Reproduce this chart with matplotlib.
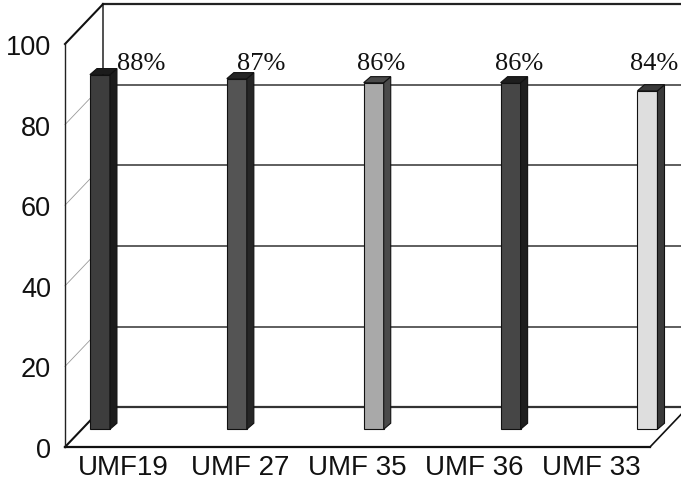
#importing libraries
import numpy as np
import matplotlib
matplotlib.use("Agg")
import matplotlib.pyplot as plt
from matplotlib.patches import Polygon

#data
categories = ["UMF19", "UMF 27", "UMF 35", "UMF 36", "UMF 33"]
values = [88, 87, 86, 86, 84]
value_labels = ["88%", "87%", "86%", "86%", "84%"]
yticks = [0, 20, 40, 60, 80, 100]

#styles
face_colors = ["#3d3d3d", "#545454", "#a9a9a9", "#464646", "#dedede"]
side_colors = ["#1c1c1c", "#262626", "#4a4a4a", "#1e1e1e", "#3a3a3a"]
label_shift = [0.355, 0.21, 0.06, 0.07, 0.06]

#3d geometry in data units (front plane is the axes)
back_dx, back_dy = 0.325, 9.9      # back wall offset
mid_dx, mid_dy = 0.15, 4.4         # plane where bars stand
bar_w = 0.171
box_dx, box_dy = 0.06, 1.5         # bar thickness
bar_x = -0.437 + 1.17 * np.arange(len(values))

fig = plt.figure(figsize=(6.81, 4.89), dpi=100)
ax = fig.add_axes([65 / 681, 41 / 489, 585 / 681, 403 / 489])
ax.set_xlim(-0.5, 4.5)
ax.set_ylim(0, 100)
ax.patch.set_alpha(0)

x0, x1 = -0.5, 4.5

#back wall
ax.plot([x0 + back_dx, x0 + back_dx], [back_dy, 100 + back_dy], color="#222", lw=1.1, clip_on=False, zorder=1)
ax.plot([x0 + back_dx, x1 + back_dx], [100 + back_dy, 100 + back_dy], color="#222", lw=1.6, clip_on=False, zorder=1)
for t in yticks[:-1]:
    lw = 1.6 if t == 0 else 1.1
    ax.plot([x0 + back_dx, x1 + back_dx], [t + back_dy, t + back_dy], color="#333", lw=lw, clip_on=False, zorder=1)

#left wall diagonals
for t in yticks:
    if t in (0, 100):
        ax.plot([x0, x0 + back_dx], [t, t + back_dy], color="#111", lw=1.5, clip_on=False, zorder=1)
    else:
        ax.plot([x0, x0 + back_dx], [t, t + back_dy], color="#9a9a9a", lw=0.6, clip_on=False, zorder=1)

#floor
ax.plot([x0, x1], [0, 0], color="#111", lw=1.6, clip_on=False, zorder=4)
ax.plot([x1, x1 + back_dx], [0, back_dy], color="#111", lw=1.2, clip_on=False, zorder=4)

#bars
ax.bar(bar_x + mid_dx, values, width=bar_w, bottom=mid_dy, align="edge",
       color=face_colors, edgecolor="#111", linewidth=0.8, zorder=3, clip_on=False)
for x, v, sc in zip(bar_x + mid_dx, values, side_colors):
    top = mid_dy + v
    side = [(x + bar_w, mid_dy), (x + bar_w + box_dx, mid_dy + box_dy),
            (x + bar_w + box_dx, top + box_dy), (x + bar_w, top)]
    cap = [(x, top), (x + box_dx, top + box_dy), (x + bar_w + box_dx, top + box_dy), (x + bar_w, top)]
    ax.add_patch(Polygon(side, closed=True, facecolor=sc, edgecolor="#111", lw=0.8, zorder=3, clip_on=False))
    ax.add_patch(Polygon(cap, closed=True, facecolor=sc, edgecolor="#111", lw=0.8, zorder=3, clip_on=False))

#value labels
for x, lab, s in zip(bar_x + mid_dx + bar_w / 2, value_labels, label_shift):
    ax.text(x + s, 95.3, lab, ha="center", va="center", fontsize=19,
            family="Liberation Serif", color="#111", clip_on=False)

#axes
for sp in ["top", "right", "bottom"]:
    ax.spines[sp].set_visible(False)
ax.spines["left"].set_color("#222")
ax.spines["left"].set_linewidth(1.0)
ax.set_yticks(yticks)
ax.set_yticklabels([str(t) for t in yticks], fontsize=19.5, family="Liberation Sans", color="#111")
ax.set_xticks(np.arange(len(categories)))
ax.set_xticklabels(categories, fontsize=20, family="Liberation Sans", color="#111")
ax.tick_params(axis="y", length=0, pad=10)
ax.tick_params(axis="x", length=0, pad=5)

fig.savefig("out.png", dpi=100)
